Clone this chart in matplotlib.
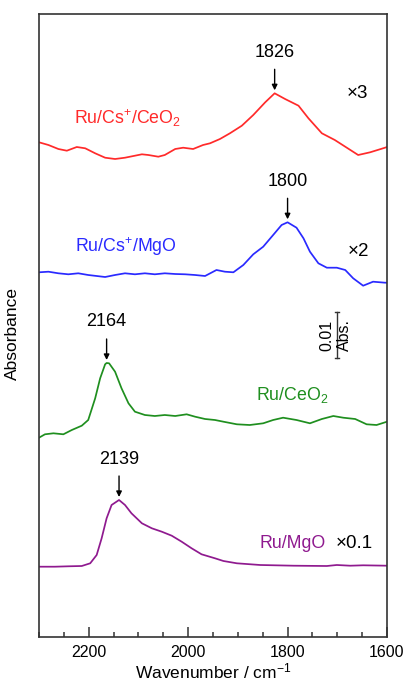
import matplotlib
matplotlib.use("Agg")
import matplotlib.pyplot as plt
from matplotlib.ticker import MultipleLocator, NullLocator

plt.rcParams['font.family'] = ['Liberation Sans', 'DejaVu Sans']
plt.rcParams['mathtext.fontset'] = 'custom'
plt.rcParams['mathtext.rm'] = 'Liberation Sans'
plt.rcParams['mathtext.it'] = 'Liberation Sans:italic'

# ---- data (vertical values in arbitrary display units; 46 units = 0.01 Abs) ----
wn_cs_ceo2 = [2300, 2281, 2261, 2244, 2224, 2207, 2187, 2167, 2147, 2127, 2107, 2093,
              2080, 2060, 2047, 2026, 2010, 1990, 1970, 1956, 1936, 1916, 1892, 1869,
              1845, 1826, 1805, 1778, 1758, 1731, 1705, 1684, 1658, 1634, 1604, 1600]
ab_cs_ceo2 = [494.7, 492.0, 488.0, 486.3, 490.0, 488.7, 483.7, 479.3, 478.0, 479.3,
              481.3, 482.7, 482.0, 480.3, 482.0, 488.0, 489.3, 488.0, 492.0, 493.7,
              498.0, 503.7, 511.3, 522.0, 534.7, 543.7, 538.0, 531.3, 518.7, 503.7,
              497.0, 490.3, 482.0, 484.7, 489.3, 490.0]

wn_cs_mgo = [2300, 2281, 2261, 2241, 2221, 2201, 2184, 2167, 2147, 2127, 2107, 2087,
             2067, 2047, 2026, 2006, 1986, 1966, 1943, 1926, 1909, 1889, 1869, 1849,
             1829, 1812, 1800, 1782, 1768, 1755, 1738, 1721, 1701, 1684, 1668, 1648,
             1628, 1604, 1600]
ab_cs_mgo = [364.7, 365.3, 363.7, 362.7, 363.7, 362.0, 361.0, 360.0, 362.0, 363.7,
             362.7, 363.7, 362.7, 363.7, 363.0, 362.7, 362.0, 361.0, 367.0, 365.3,
             364.7, 372.0, 382.7, 390.3, 402.0, 412.0, 414.7, 409.3, 398.7, 385.3,
             373.7, 369.3, 369.3, 367.0, 358.7, 351.3, 355.3, 354.3, 354.3]

wn_ceo2 = [2300, 2288, 2271, 2251, 2234, 2214, 2201, 2187, 2177, 2167, 2164, 2159,
           2147, 2134, 2120, 2107, 2087, 2067, 2047, 2026, 2003, 1986, 1966, 1946,
           1929, 1902, 1876, 1849, 1829, 1809, 1782, 1755, 1731, 1708, 1688, 1664,
           1641, 1621, 1600]
ab_ceo2 = [199.3, 202.7, 203.7, 202.7, 207.0, 211.3, 217.0, 238.7, 258.7, 272.7,
           274.0, 273.7, 265.3, 248.7, 233.7, 225.3, 222.0, 221.0, 222.0, 221.0,
           222.7, 220.3, 218.0, 217.0, 215.3, 212.7, 212.0, 213.7, 217.0, 219.3,
           217.0, 213.7, 218.0, 221.0, 219.3, 218.0, 212.7, 212.0, 215.3]

wn_mgo = [2300, 2268, 2241, 2214, 2197, 2184, 2174, 2164, 2154, 2139, 2127, 2114,
          2093, 2073, 2053, 2033, 2013, 1993, 1973, 1946, 1929, 1902, 1855, 1788,
          1721, 1701, 1674, 1648, 1600]
ab_mgo = [70.3, 70.3, 70.7, 71.0, 73.7, 82.0, 98.7, 118.7, 132.0, 137.0, 132.0,
          123.7, 113.7, 108.7, 105.3, 101.3, 95.3, 88.7, 82.7, 78.7, 76.0, 73.7,
          72.0, 71.3, 71.0, 72.0, 71.3, 71.7, 71.3]

names = ["Ru/Cs$^{+}$/CeO$_{2}$", "Ru/Cs$^{+}$/MgO", "Ru/CeO$_{2}$", "Ru/MgO"]
colors = ["#ff2a2a", "#2a2aff", "#1f8f1f", "#8f1a8f"]
factors = ["×3", "×2", None, "×0.1"]
peaks = [1826, 1800, 2164, 2139]

scale_bar_units = 46  # = 0.01 Abs

fig = plt.figure(figsize=(4.06, 6.84), dpi=100)
ax = fig.add_axes([39/406, 47/684, 348/406, 623/684])

series = [(wn_cs_ceo2, ab_cs_ceo2), (wn_cs_mgo, ab_cs_mgo), (wn_ceo2, ab_ceo2), (wn_mgo, ab_mgo)]
peak_tops = []
for (w, a), c, pk in zip(series, colors, peaks):
    ax.plot(w, a, color=c, lw=1.25, solid_joinstyle='round', solid_capstyle='round')
    peak_tops.append(a[w.index(pk)])

ax.set_xlim(2300, 1600)
ax.set_ylim(0, 623)

# name labels
name_pos = [(2121, 519), (2126, 390), (1790, 242), (1790, 94)]
for n, c, (x, y) in zip(names, colors, name_pos):
    ax.text(x, y, n, color=c, fontsize=12.8, ha='center', va='center')

fac_pos = [(1660, 543), (1658, 385), None, (1666, 94)]
for f, p in zip(factors, fac_pos):
    if f:
        ax.text(p[0], p[1], f, color='black', fontsize=13.5, ha='center', va='center')

# peak arrows
for pk, top in zip(peaks, peak_tops):
    ax.annotate("", xy=(pk, top + 3), xytext=(pk, top + 24),
                arrowprops=dict(arrowstyle='-|>', color='black', lw=1.0,
                                mutation_scale=8, shrinkA=0, shrinkB=0))
    ax.text(pk, top + 41, str(pk), fontsize=13, ha='center', va='center')

# scale bar
xb = 1700
yb0 = 279
ax.plot([xb, xb], [yb0, yb0 + scale_bar_units], color='#333333', lw=1.0)
for yy in (yb0, yb0 + scale_bar_units):
    ax.plot([xb + 4, xb - 4], [yy, yy], color='#333333', lw=1.0)
ax.text(xb + 21, yb0 + scale_bar_units / 2, "0.01", rotation=90, fontsize=11.5,
        ha='center', va='center')
ax.text(xb - 15, yb0 + scale_bar_units / 2, "Abs.", rotation=90, fontsize=11.5,
        ha='center', va='center')

# axes styling
for s in ax.spines.values():
    s.set_color('#333333')
    s.set_linewidth(1.2)
ax.xaxis.set_major_locator(MultipleLocator(200))
ax.xaxis.set_minor_locator(MultipleLocator(50))
ax.yaxis.set_major_locator(NullLocator())
ax.tick_params(axis='x', which='major', direction='in', length=7, width=1.1,
               color='#333333', labelsize=11.5, pad=6)
ax.tick_params(axis='x', which='minor', direction='in', length=3.5, width=1.1,
               color='#333333')
ax.set_xlabel("Wavenumber / cm$^{-1}$", fontsize=12.5, labelpad=1)
ax.set_ylabel("Absorbance", fontsize=12.5)
ax.yaxis.set_label_coords(-(39 - 20) / 348, (637 - 333) / 623)

fig.savefig("out.png", dpi=100)
